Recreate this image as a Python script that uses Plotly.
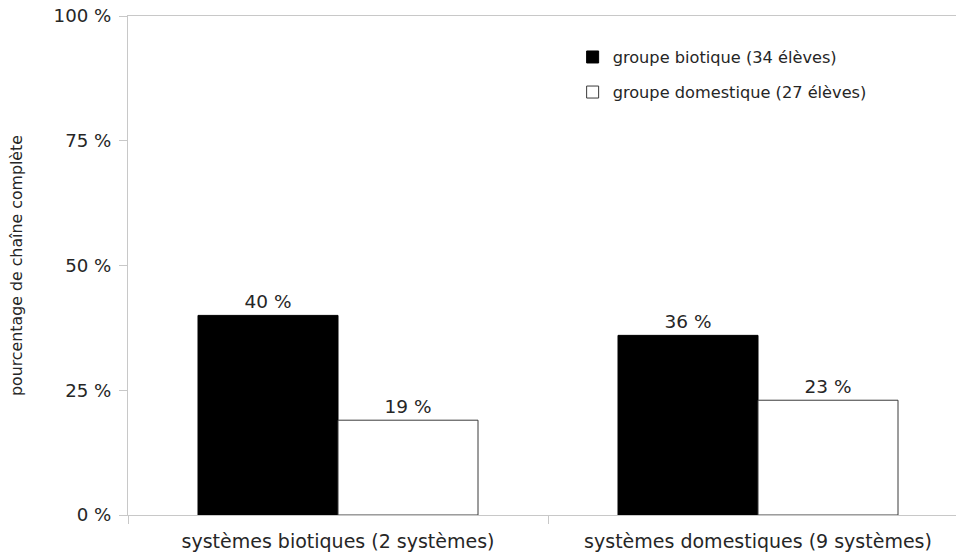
import plotly.graph_objects as go

categories = ["systèmes biotiques (2 systèmes)", "systèmes domestiques (9 systèmes)"]
biotique = [40, 36]
domestique = [19, 23]
series_names = ["groupe biotique (34 élèves)", "groupe domestique (27 élèves)"]
y_ticks = [0, 25, 50, 75, 100]
y_tick_labels = ["0 %", "25 %", "50 %", "75 %", "100 %"]

FONT = "DejaVu Sans"
TXT = "#262626"

fig = go.Figure()
fig.add_trace(go.Bar(
    x=categories, y=biotique, name=series_names[0], legendgroup="a",
    marker=dict(color="#000000", line=dict(color="#000000", width=1)),
    text=[f"{v} %" for v in biotique], textposition="outside",
    textfont=dict(size=18.5, color=TXT, family=FONT), cliponaxis=False,
))
fig.add_trace(go.Bar(
    x=categories, y=domestique, name=series_names[1], legendgroup="b",
    marker=dict(color="#ffffff", line=dict(color="#3a3a3a", width=1)),
    text=[f"{v} %" for v in domestique], textposition="outside",
    textfont=dict(size=18.5, color=TXT, family=FONT), cliponaxis=False,
))

fig.update_layout(
    width=956, height=556,
    margin=dict(l=128, r=0, t=16, b=41),
    paper_bgcolor="white", plot_bgcolor="white",
    font=dict(family=FONT, color=TXT),
    barmode="group", bargap=1/3, bargroupgap=0,
    showlegend=True,
    legend=dict(x=0.537, y=0.952, xanchor="left", yanchor="top",
                font=dict(size=16.2, family=FONT, color=TXT),
                bgcolor="rgba(0,0,0,0)", tracegroupgap=11),
)
fig.update_xaxes(
    range=[-0.5, 1.4714], showline=True, linecolor="#c8c8c8", linewidth=1, mirror=True,
    ticks="outside", tickson="boundaries", ticklen=8, tickcolor="#c8c8c8",
    ticklabelstandoff=9,
    tickfont=dict(size=19, family=FONT, color=TXT), showgrid=False,
)
fig.update_yaxes(
    range=[0, 100], tickvals=y_ticks, ticktext=y_tick_labels,
    showline=True, linecolor="#c8c8c8", linewidth=1,
    ticks="outside", ticklen=8, tickcolor="#c8c8c8", ticklabelstandoff=4,
    tickfont=dict(size=18.2, family=FONT, color=TXT), showgrid=False, zeroline=False,
    title=dict(text="pourcentage de chaîne complète", font=dict(size=15.8, family=FONT, color=TXT), standoff=27),
)
fig.write_html("out.html")
